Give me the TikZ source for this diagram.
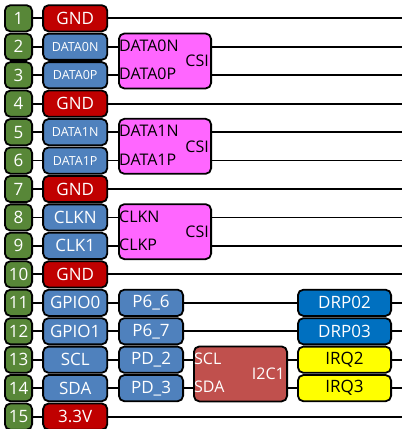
\documentclass[tikz,border=0pt]{standalone}
\usepackage{fontspec}
\setmainfont{Open Sans}
\definecolor{pingreen}{RGB}{88,135,56}
\definecolor{gndred}{RGB}{192,0,0}
\definecolor{nameblue}{RGB}{79,129,189}
\definecolor{csipink}{RGB}{255,102,255}
\definecolor{i2cred}{RGB}{192,80,77}
\definecolor{drpblue}{RGB}{0,112,192}
\definecolor{irqyellow}{RGB}{255,255,0}
\begin{document}
\begin{tikzpicture}[x=1pt,y=-1pt,
  box/.style={draw=black, line width=1.8pt, rounded corners=5.5pt, minimum height=26.2pt, inner sep=0pt},
  big/.style={font=\fontsize{17}{17}\selectfont},
  small/.style={font=\fontsize{12.5}{12.5}\selectfont},
  pin/.style={box, big, fill=pingreen, text=white, minimum width=27.2pt},
  gnd/.style={box, big, fill=gndred, text=white, minimum width=64.2pt},
  sig/.style={box, big, fill=nameblue, text=white, minimum width=64.2pt},
  sigs/.style={sig, small},
  csi/.style={box, fill=csipink, minimum width=92.2pt, minimum height=55pt},
  i2c/.style={box, fill=i2cred, minimum width=93.2pt, minimum height=55pt},
  drp/.style={box, big, fill=drpblue, text=white, minimum width=93.2pt},
  irq/.style={box, big, fill=irqyellow, text=black, minimum width=93.2pt},
  lbl/.style={inner sep=0pt, font=\fontsize{16}{16}\selectfont},
  wire/.style={line width=1.8pt}]
\useasboundingbox (0,0) rectangle (402,429);
\fill[white] (0,0) rectangle (402,429);
\foreach \i in {1,...,15} {
  \coordinate (e\i) at (402,{18.3+(\i-1)*28.45});
}
% name column
\foreach \i/\t/\s in {1/GND/gnd,2/DATA0N/sigs,3/DATA0P/sigs,4/GND/gnd,5/DATA1N/sigs,6/DATA1P/sigs,7/GND/gnd,8/CLKN/sig,9/CLK1/sig,10/GND/gnd,11/GPIO0/sig,12/GPIO1/sig,13/SCL/sig,14/SDA/sig,15/3.3V/gnd} {
  \node[\s] (n\i) at (75.2,{18.3+(\i-1)*28.45}) {\t};
}
% second column
\node[sig] (q11) at (151,{18.3+10*28.45}) {P6\_6};
\node[sig] (q12) at (151,{18.3+11*28.45}) {P6\_7};
\node[sig] (q13) at (151,{18.3+12*28.45}) {PD\_2};
\node[sig] (q14) at (151,{18.3+13*28.45}) {PD\_3};
% CSI blocks
\node[csi] (c1) at (165,{18.3+1.5*28.45}) {};
\node[csi] (c2) at (165,{18.3+4.5*28.45}) {};
\node[csi] (c3) at (165,{18.3+7.5*28.45}) {};
% I2C block
\node[i2c] (k1) at (240.5,{18.3+12.5*28.45}) {};
% right column
\node[drp] (d11) at (344.5,{18.3+10*28.45}) {DRP02};
\node[drp] (d12) at (344.5,{18.3+11*28.45}) {DRP03};
\node[irq] (d13) at (344.5,{18.3+12*28.45}) {IRQ2};
\node[irq] (d14) at (344.5,{18.3+13*28.45}) {IRQ3};
% wires
\foreach \i in {1,4,7,10,15} {
  \draw[wire] (n\i.east) -- (e\i);
}
\foreach \i/\c in {2/c1,3/c1,5/c2,6/c2,8/c3,9/c3} {
  \draw[wire] (n\i.east) -- (\c.west |- n\i);
  \draw[wire] (\c.east |- n\i) -- (e\i);
}
\foreach \i in {11,12} {
  \draw[wire] (n\i.east) -- (q\i.west);
  \draw[wire] (q\i.east) -- (d\i.west);
  \draw[wire] (d\i.east) -- (e\i);
}
\foreach \i in {13,14} {
  \draw[wire] (n\i.east) -- (q\i.west);
  \draw[wire] (q\i.east) -- (k1.west |- q\i);
  \draw[wire] (k1.east |- q\i) -- (d\i.west);
  \draw[wire] (d\i.east) -- (e\i);
}
% pins
\foreach \i in {1,...,15} {
  \node[pin] (p\i) at (18.5,{18.3+(\i-1)*28.45}) {\i};
  \draw[wire] (p\i.east) -- (n\i.west);
}
% CSI labels
\node[lbl, anchor=west] (l2) at ([xshift=1pt,yshift=1pt]c1.west |- n2) {DATA0N};
\node[lbl, anchor=west] (l3) at ([xshift=1pt,yshift=1pt]c1.west |- n3) {DATA0P};
\node[lbl, anchor=east] (t1) at ([xshift=-3pt]c1.east) {CSI};
\node[lbl, anchor=west] (l5) at ([xshift=1pt,yshift=1pt]c2.west |- n5) {DATA1N};
\node[lbl, anchor=west] (l6) at ([xshift=1pt,yshift=1pt]c2.west |- n6) {DATA1P};
\node[lbl, anchor=east] (t2) at ([xshift=-3pt]c2.east) {CSI};
\node[lbl, anchor=west] (l8) at ([xshift=1pt,yshift=1pt]c3.west |- n8) {CLKN};
\node[lbl, anchor=west] (l9) at ([xshift=1pt,yshift=1pt]c3.west |- n9) {CLKP};
\node[lbl, anchor=east] (t3) at ([xshift=-3pt]c3.east) {CSI};
% I2C labels
\node[lbl, anchor=west, text=white] (l13) at ([xshift=1pt,yshift=1pt]k1.west |- n13) {SCL};
\node[lbl, anchor=west, text=white] (l14) at ([xshift=1pt,yshift=1pt]k1.west |- n14) {SDA};
\node[lbl, anchor=east, text=white] (t4) at ([xshift=-3pt]k1.east) {I2C1};
\end{tikzpicture}
\end{document}
